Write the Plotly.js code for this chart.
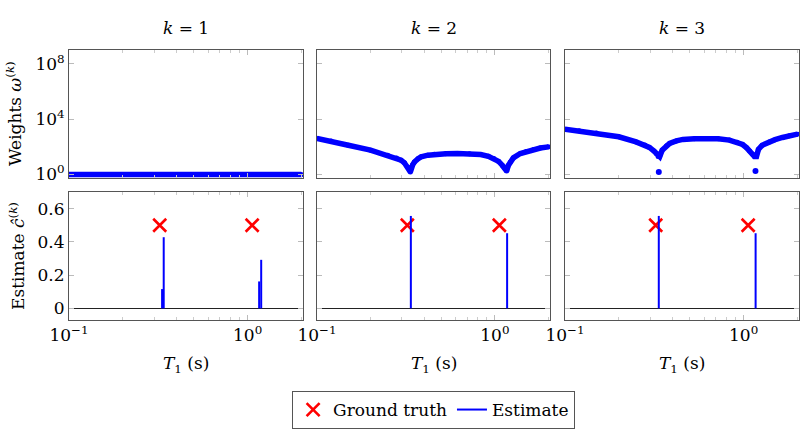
<!DOCTYPE html>
<html><head><meta charset="utf-8">
<script src="https://cdn.plot.ly/plotly-3.0.1.min.js"></script>
<style>html,body{margin:0;padding:0;background:#fff}#chart{width:800px;height:429px}</style>
</head><body><div id="chart"></div>
<script>
// ---- data ----
const columnTitles = ['<i>k</i> = 1', '<i>k</i> = 2', '<i>k</i> = 3'];

// weights omega^(k)
const w1X = [0.1, 0.2, 0.5, 1.0, 2.0];
const w1Y = [1, 1, 1, 1, 1];

const w2X = [0.1, 0.12, 0.15, 0.2, 0.25, 0.28, 0.297, 0.31, 0.324, 0.335, 0.345, 0.353, 0.37, 0.385, 0.42, 0.456, 0.53, 0.616, 0.72, 0.832, 0.92, 0.987, 1.05, 1.10, 1.13, 1.165, 1.19, 1.22, 1.27, 1.39, 1.5, 1.65, 1.8, 2.0];
const w2Y = [407, 260, 132, 57.5, 25, 15.5, 11, 7.1, 3.5, 1.55, 5, 8.1, 14, 19, 25, 29.5, 32, 33, 31.5, 28, 21, 14.5, 8.9, 4.7, 3.2, 1.8, 4.5, 8.1, 16, 33, 46, 65, 82, 100];

const w3X = [0.1, 0.12, 0.15, 0.2, 0.25, 0.28, 0.297, 0.315, 0.324, 0.332, 0.339, 0.35, 0.37, 0.385, 0.42, 0.457, 0.53, 0.616, 0.72, 0.832, 0.92, 0.987, 1.04, 1.08, 1.12, 1.15, 1.18, 1.21, 1.27, 1.39, 1.5, 1.65, 1.8, 2.0];
const w3Y = [1905, 1450, 1023, 537, 229, 135, 91, 50, 33, 20, 20, 57.5, 120, 178, 270, 347, 390, 407, 380, 309, 220, 148, 85, 51, 30, 20, 20, 65, 130, 229, 330, 479, 640, 832];
const w3DotX = [0.335, 1.165];
const w3DotY = [1.55, 1.8];

// ground truth
const truthX = [0.322, 1.06];
const truthY = [0.5, 0.5];

// estimates c^(k) (nonzero entries only; all other grid values are 0)
const est1X = [0.332, 0.339, 1.160, 1.191];
const est1Y = [0.116, 0.428, 0.162, 0.292];
const est2X = [0.337, 1.172];
const est2Y = [0.556, 0.452];
const est3X = [0.335, 1.167];
const est3Y = [0.556, 0.452];

const xTickVals = [0.1, 1];
const xTickText = ['10<sup>−1</sup>', '10<sup>0</sup>'];
const xMinorVals = [0.2, 0.3, 0.4, 0.5, 0.6, 0.7, 0.8, 0.9, 2];
const wTickVals = [1, 1e4, 1e8];
const wTickText = ['10<sup>0</sup>', '10<sup>4</sup>', '10<sup>8</sup>'];
const cTickVals = [0, 0.2, 0.4, 0.6];
const cTickText = ['0', '0.2', '0.4', '0.6'];

// ---- build ----
const BLUE = '#0000ff', RED = '#ff0000';
function combs(xs, ys) {
  const X = [], Y = [];
  xs.forEach((x, i) => { X.push(x, x, null); Y.push(0, ys[i], null); });
  return {X, Y};
}
const traces = [];
function weightTrace(x, y, ax, ay) {
  traces.push({x, y, xaxis: ax, yaxis: ay, type: 'scatter', mode: 'lines+markers',
    line: {color: BLUE, width: 5.5}, marker: {color: BLUE, size: 5}, showlegend: false, hoverinfo: 'skip'});
}
weightTrace(w1X, w1Y, 'x', 'y');
weightTrace(w2X, w2Y, 'x2', 'y2');
weightTrace(w3X, w3Y, 'x3', 'y3');
traces.push({x: w3DotX, y: w3DotY, xaxis: 'x3', yaxis: 'y3', type: 'scatter', mode: 'markers',
  marker: {color: BLUE, size: 6}, showlegend: false});

const ests = [[est1X, est1Y], [est2X, est2Y], [est3X, est3Y]];
ests.forEach((e, i) => {
  const ax = 'x' + (i + 4), ay = 'y' + (i + 4);
  traces.push({x: truthX, y: truthY, xaxis: ax, yaxis: ay, type: 'scatter', mode: 'markers',
    name: 'Ground truth', legendrank: 1, showlegend: i === 0,
    marker: {symbol: 'x-thin', size: 13, color: RED, line: {color: RED, width: 2.6}}});
  const c = combs(e[0], e[1]);
  traces.push({x: c.X, y: c.Y, xaxis: ax, yaxis: ay, type: 'scatter', mode: 'lines',
    name: 'Estimate', legendrank: 2, showlegend: i === 0, connectgaps: false,
    line: {color: BLUE, width: 2}});
});

const FONT = 'DejaVu Serif';
const FS = 17;
const colDom = [[69/800, 303/800], [317/800, 550/800], [565/800, 799/800]];
const topDom = [1 - 178/429, 1 - 50/429];
const botDom = [1 - 320/429, 1 - 192/429];
const layout = {
  width: 800, height: 429, margin: {l: 0, r: 0, t: 0, b: 0},
  paper_bgcolor: '#fff', plot_bgcolor: '#fff',
  font: {family: FONT, size: FS, color: '#000'},
  showlegend: true,
  legend: {orientation: 'h', x: 0.542, xanchor: 'center', y: 1 - 410/429, yanchor: 'middle',
    bordercolor: '#555', borderwidth: 1, font: {family: FONT, size: FS}, itemwidth: 30,
    tracegroupgap: 0, traceorder: 'normal'},
  annotations: []
};
function xAxis(dom, anchor, labels) {
  return {type: 'log', range: [-1, 0.31], domain: dom, anchor, showgrid: false, zeroline: false,
    showline: true, mirror: 'allticks', linecolor: '#555', linewidth: 1,
    ticks: 'inside', ticklen: 5, tickcolor: '#bbb', tickmode: 'array', tickvals: xTickVals, ticktext: xTickText,
    minor: {tickmode: 'array', tickvals: xMinorVals, ticks: 'inside', ticklen: 3, tickcolor: '#ccc', showgrid: false},
    showticklabels: labels, tickfont: {family: FONT, size: FS}, automargin: false};
}
function yAxis(dom, anchor, log, labels) {
  const a = {domain: dom, anchor, showgrid: false, showline: true, mirror: 'allticks',
    linecolor: '#555', linewidth: 1, ticks: 'inside', ticklen: 5, tickcolor: '#bbb',
    showticklabels: labels, tickfont: {family: FONT, size: FS}, automargin: false};
  if (log) { Object.assign(a, {type: 'log', range: [-0.25, 9], tickmode: 'array', tickvals: wTickVals, ticktext: wTickText, zeroline: false}); }
  else { Object.assign(a, {range: [-0.07, 0.7], tickmode: 'array', tickvals: cTickVals, ticktext: cTickText,
    zeroline: true, zerolinecolor: '#222', zerolinewidth: 1.5}); }
  return a;
}
for (let i = 0; i < 3; i++) {
  const s = i === 0 ? '' : String(i + 1);
  layout['xaxis' + s] = xAxis(colDom[i], 'y' + s, false);
  layout['yaxis' + s] = yAxis(topDom, 'x' + s, true, i === 0);
  layout['xaxis' + (i + 4)] = xAxis(colDom[i], 'y' + (i + 4), true);
  layout['yaxis' + (i + 4)] = yAxis(botDom, 'x' + (i + 4), false, i === 0);
  const cx = (colDom[i][0] + colDom[i][1]) / 2;
  layout.annotations.push({text: columnTitles[i], x: cx, y: 1 - 28/429, xref: 'paper', yref: 'paper',
    showarrow: false, xanchor: 'center', yanchor: 'middle', font: {family: FONT, size: FS}});
  layout.annotations.push({text: '<i>T</i><sub>1</sub> (s)', x: cx, y: 1 - 364/429, xref: 'paper', yref: 'paper',
    showarrow: false, xanchor: 'center', yanchor: 'middle', font: {family: FONT, size: FS}});
}
layout.annotations.push({text: 'Weights <i>ω</i><sup>(<i>k</i>)</sup>', x: 14/800, y: 1 - 114/429,
  xref: 'paper', yref: 'paper', showarrow: false, textangle: -90, xanchor: 'center', yanchor: 'middle',
  font: {family: FONT, size: FS}});
layout.annotations.push({text: 'Estimate <i>ĉ</i><sup>(<i>k</i>)</sup>', x: 17/800, y: 1 - 256/429,
  xref: 'paper', yref: 'paper', showarrow: false, textangle: -90, xanchor: 'center', yanchor: 'middle',
  font: {family: FONT, size: FS}});

Plotly.newPlot('chart', traces, layout, {staticPlot: true, displayModeBar: false});
</script></body></html>
